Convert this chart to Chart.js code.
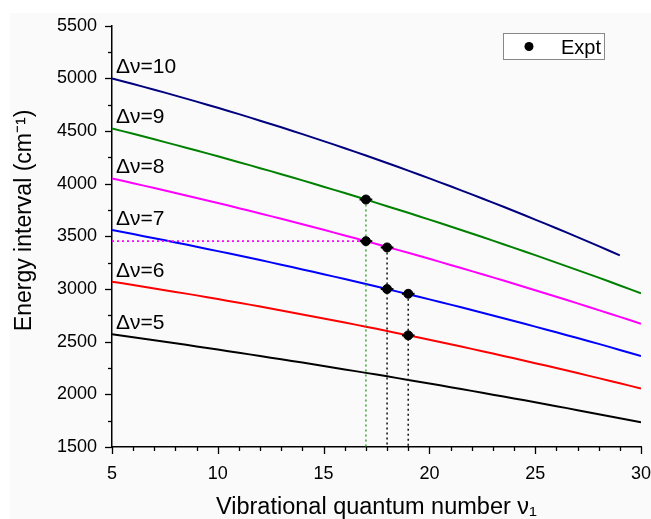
<!DOCTYPE html>
<html>
<head>
<meta charset="utf-8">
<title>Energy interval vs vibrational quantum number</title>
<script src="https://cdn.jsdelivr.net/npm/chart.js@4.4.1/dist/chart.umd.min.js"></script>
<style>
  html, body { margin: 0; padding: 0; background: #fff; }
  #wrap { width: 651px; height: 519px; }
</style>
</head>
<body>
<div id="wrap"><canvas id="chart" width="651" height="519"></canvas></div>
<script>
// -----------------------------
// Data
// -----------------------------
const vib = [5, 6, 7, 8, 9, 10, 11, 12, 13, 14, 15, 16, 17, 18, 19, 20,
             21, 22, 23, 24, 25, 26, 27, 28, 29, 30];

const dv10 = [5000, 4947, 4893, 4837, 4780, 4721, 4661, 4599, 4536, 4471, 4405, 4337, 4268,
              4197, 4125, 4051, 3976, 3899, 3821, 3741, 3660, 3577, 3493, 3407, 3320];
const dv9 = [4525, 4474, 4422, 4369, 4316, 4261, 4205, 4148, 4091, 4032, 3972, 3912, 3850,
             3787, 3724, 3659, 3594, 3527, 3460, 3391, 3322, 3251, 3180, 3108, 3034, 2960];
const dv8 = [4050, 4005, 3959, 3913, 3865, 3817, 3768, 3718, 3667, 3615, 3563, 3509, 3455,
             3400, 3344, 3287, 3229, 3170, 3111, 3050, 2989, 2927, 2864, 2800, 2736, 2670];
const dv7 = [3560, 3522, 3482, 3443, 3402, 3360, 3318, 3275, 3231, 3186, 3141, 3095, 3048,
             3000, 2951, 2902, 2852, 2801, 2749, 2697, 2643, 2589, 2535, 2479, 2422, 2365];
const dv6 = [3070, 3039, 3006, 2973, 2940, 2905, 2870, 2834, 2797, 2759, 2721, 2682, 2642,
             2602, 2560, 2518, 2475, 2432, 2387, 2342, 2296, 2250, 2202, 2154, 2105, 2056];
const dv5 = [2570, 2542, 2514, 2485, 2455, 2425, 2395, 2364, 2333, 2302, 2270, 2237, 2204,
             2171, 2137, 2103, 2068, 2033, 1997, 1961, 1925, 1888, 1850, 1812, 1774, 1736];

const curveLabels = ['\u0394\u03bd=10', '\u0394\u03bd=9', '\u0394\u03bd=8',
                     '\u0394\u03bd=7', '\u0394\u03bd=6', '\u0394\u03bd=5'];
const curveColors = ['#00007f', '#008000', '#ff00ff', '#0000ff', '#ff0000', '#000000'];
const curves = [dv10, dv9, dv8, dv7, dv6, dv5];

// experimental points
const exptV = [17, 17, 18, 18, 19, 19];
const exptE = [3850, 3455, 3395, 3000, 2955, 2560];
const exptErr = 0.3;

// guide lines (dotted)
const guideGreen = [[17, 3850], [17, 1500]];
const guideBlack18 = [[18, 3395], [18, 1500]];
const guideBlack19 = [[19, 2955], [19, 1500]];
const guideMagenta = [[5, 3455], [17, 3455]];

const xMin = 5, xMax = 30, yMin = 1500, yMax = 5500;

const FONT = "'Liberation Sans', Arial, sans-serif";

// -----------------------------
// Datasets
// -----------------------------
const toXY = arr => arr.map((y, i) => ({x: vib[i], y: y}));
const pairXY = arr => arr.map(p => ({x: p[0], y: p[1]}));

const datasets = [];
curves.forEach((c, i) => {
  datasets.push({
    label: curveLabels[i],
    data: toXY(c),
    showLine: true,
    borderColor: curveColors[i],
    borderWidth: 2,
    pointRadius: 0,
    tension: 0.3,
    order: 3
  });
});

function guide(data, color) {
  return {
    label: 'guide',
    data: pairXY(data),
    showLine: true,
    borderColor: color,
    borderWidth: 1.6,
    borderDash: [2, 3],
    pointRadius: 0,
    order: 2
  };
}
datasets.push(guide(guideGreen, '#4aa64a'));
datasets.push(guide(guideBlack18, '#1a1a1a'));
datasets.push(guide(guideBlack19, '#1a1a1a'));
datasets.push(guide(guideMagenta, '#ff00ff'));

datasets.push({
  label: 'Expt',
  data: exptV.map((v, i) => ({x: v, y: exptE[i]})),
  showLine: false,
  pointRadius: 4.5,
  pointBackgroundColor: '#000',
  pointBorderColor: '#000',
  order: 0
});

// -----------------------------
// Extras: background, minor ticks, labels, error bars, legend
// -----------------------------
const extras = {
  id: 'extras',
  beforeDraw(chart) {
    const ctx = chart.ctx;
    ctx.save();
    ctx.fillStyle = '#fafafa';
    ctx.fillRect(10, 13, chart.width - 10, chart.height - 13);
    ctx.restore();
  },
  afterDatasetsDraw(chart) {
    const ctx = chart.ctx;
    const xs = chart.scales.x, ys = chart.scales.y;
    ctx.save();
    ctx.strokeStyle = '#000';
    ctx.lineWidth = 2;
    exptV.forEach((v, i) => {
      const y = ys.getPixelForValue(exptE[i]);
      ctx.beginPath();
      ctx.moveTo(xs.getPixelForValue(v - exptErr), y);
      ctx.lineTo(xs.getPixelForValue(v + exptErr), y);
      ctx.stroke();
    });
    ctx.restore();
  },
  afterDraw(chart) {
    const ctx = chart.ctx;
    const xs = chart.scales.x, ys = chart.scales.y;
    const area = chart.chartArea;
    ctx.save();

    // tick marks
    ctx.strokeStyle = '#000';
    ctx.lineWidth = 1.3;
    for (let v = xMin; v <= xMax; v++) {
      const px = Math.round(xs.getPixelForValue(v)) + 0.5;
      const len = v % 5 === 0 ? 7 : 4;
      ctx.beginPath();
      ctx.moveTo(px, area.bottom);
      ctx.lineTo(px, area.bottom + len);
      ctx.stroke();
    }
    for (let e = yMin; e <= yMax; e += 250) {
      const py = Math.round(ys.getPixelForValue(e)) + 0.5;
      const len = e % 500 === 0 ? 7 : 4;
      ctx.beginPath();
      ctx.moveTo(area.left, py);
      ctx.lineTo(area.left - len, py);
      ctx.stroke();
    }

    // curve labels
    ctx.fillStyle = '#000';
    ctx.font = '21px ' + FONT;
    ctx.textAlign = 'left';
    ctx.textBaseline = 'alphabetic';
    curves.forEach((c, i) => {
      const px = xs.getPixelForValue(vib[0]) + 4;
      const py = ys.getPixelForValue(c[0]) - 5;
      ctx.fillText(curveLabels[i], px, py);
    });

    // legend
    ctx.fillStyle = '#ffffff';
    ctx.fillRect(503, 33, 101, 26);
    ctx.strokeStyle = '#888';
    ctx.lineWidth = 1;
    ctx.strokeRect(503.5, 33.5, 101, 26);
    ctx.fillStyle = '#000';
    ctx.beginPath();
    ctx.arc(529, 46.5, 4.5, 0, Math.PI * 2);
    ctx.fill();
    ctx.save();
    ctx.beginPath();
    ctx.rect(503, 33, 101, 26);
    ctx.clip();
    ctx.font = '20px ' + FONT;
    ctx.textBaseline = 'alphabetic';
    ctx.fillText('Expt', 561, 53.5);
    ctx.restore();

    ctx.restore();
  }
};

// -----------------------------
// Chart
// -----------------------------
new Chart(document.getElementById('chart').getContext('2d'), {
  type: 'scatter',
  data: {datasets: datasets},
  plugins: [extras],
  options: {
    responsive: false,
    animation: false,
    layout: {padding: {top: 20, right: 10, left: 0, bottom: 0}},
    plugins: {legend: {display: false}, tooltip: {enabled: false}},
    scales: {
      x: {
        type: 'linear',
        min: xMin,
        max: xMax,
        afterFit: s => { s.height = 72; s.paddingRight = 0; s.paddingLeft = 0; },
        ticks: {stepSize: 5, color: '#000', font: {size: 18, family: FONT}, padding: 16, maxRotation: 0,
                callback: v => String(v)},
        grid: {display: true, drawOnChartArea: false, drawTicks: false},
        border: {display: true, color: '#000', width: 1.5},
        title: {
          display: true,
          text: 'Vibrational quantum number \u03bd\u2081',
          color: '#000',
          font: {size: 23.5, family: FONT, lineHeight: 1},
          padding: {top: 0, bottom: 0}
        }
      },
      y: {
        type: 'linear',
        min: yMin,
        max: yMax,
        afterFit: s => { s.width = 112; },
        ticks: {stepSize: 500, color: '#000', font: {size: 18, family: FONT}, padding: 15,
                callback: v => String(v)},
        grid: {display: true, drawOnChartArea: false, drawTicks: false},
        border: {display: true, color: '#000', width: 1.5},
        title: {
          display: true,
          text: '     Energy interval (cm\u207b\u00b9)',
          color: '#000',
          font: {size: 23, family: FONT, lineHeight: 1},
          padding: {top: 13, bottom: 0}
        }
      }
    }
  }
});
</script>
</body>
</html>
